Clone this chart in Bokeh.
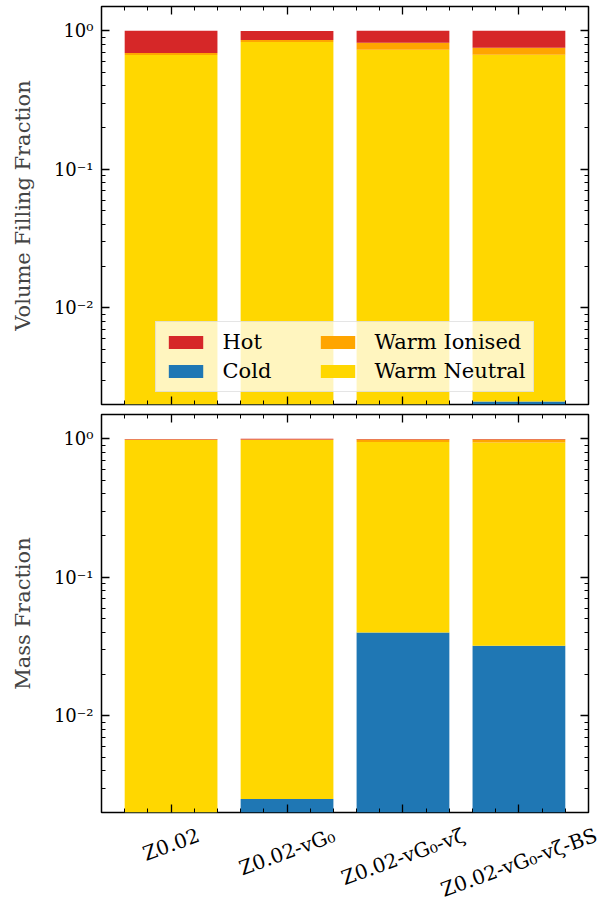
import math
import numpy as np
from bokeh.plotting import figure
from bokeh.models import (Range1d, FixedTicker, LinearAxis, LogAxis, Legend, LegendItem,
                          CustomJSTickFormatter, ColumnDataSource)
from bokeh.core.properties import value
from bokeh.layouts import column
from bokeh.embed import file_html
from bokeh.resources import INLINE

# ---------------- data ----------------
categories = ["Z0.02", "Z0.02-vG\u2080", "Z0.02-vG\u2080-v\u03b6", "Z0.02-vG\u2080-v\u03b6-BS"]

vol_cold = [0.0005, 0.0008, 0.0012, 0.0021]
vol_warm_neutral = [0.670, 0.832, 0.728, 0.669]
vol_warm_ionised = [0.023, 0.028, 0.090, 0.083]
vol_hot = [0.307, 0.139, 0.181, 0.246]

mass_cold = [0.0006, 0.0025, 0.040, 0.032]
mass_warm_neutral = [0.985, 0.981, 0.911, 0.908]
mass_warm_ionised = [0.003, 0.005, 0.037, 0.048]
mass_hot = [0.011, 0.012, 0.012, 0.012]

component_names = ["Cold", "Warm Neutral", "Warm Ionised", "Hot"]
component_colors = ["#1f77b4", "#ffd700", "#ffa500", "#d62728"]

y_major = [0.01, 0.1, 1.0]

# ---------------- style ----------------
FONT = "DejaVu Serif"
FS_TICK = "18px"
FS = "21px"
FS_CAT_PX = 20
FRAME_W, FRAME_H = 487, 398
X0, X1 = -0.6, 3.6
PX_PER_UNIT = FRAME_W / (X1 - X0)
LABEL_H = 99          # height of the strip holding the rotated category names

y_minor = [k * 10.0 ** e for e in (-3, -2, -1) for k in range(2, 10)]
x_minor = [round(v, 2) for v in np.arange(-0.4, 3.41, 0.2) if abs(v - round(v)) > 1e-6]

sup_fmt = CustomJSTickFormatter(code="""
const e = Math.round(Math.log10(tick));
const m = {"0":"\u2070","1":"\u00b9","2":"\u00b2","3":"\u00b3","-":"\u207b"};
return "10" + String(e).split("").map(c => m[c]).join("");
""")


def blank():
    return CustomJSTickFormatter(code="return ''")


def style_axis(ax, ticker, labels=True):
    ax.ticker = ticker
    ax.axis_line_color = None
    ax.major_tick_in = 8
    ax.major_tick_out = 0
    ax.minor_tick_in = 4
    ax.minor_tick_out = 0
    ax.major_tick_line_color = "black"
    ax.minor_tick_line_color = "black"
    ax.major_tick_line_width = 1.3
    ax.minor_tick_line_width = 1.0
    ax.major_label_text_font = FONT
    ax.major_label_text_color = "black"
    if labels:
        ax.major_label_text_font_size = FS_TICK
        ax.major_label_standoff = 8
    else:
        ax.formatter = blank()
        ax.major_label_text_font_size = "0px"
        ax.major_label_standoff = 0


def make_panel(series, ylabel, top_panel):
    p = figure(frame_width=FRAME_W, frame_height=FRAME_H, y_axis_type="log",
               x_range=Range1d(X0, X1), y_range=Range1d(0.002, 1.5),
               output_backend="svg", toolbar_location=None,
               min_border_left=101, min_border_right=13,
               min_border_top=6 if top_panel else 5,
               min_border_bottom=5 if top_panel else 2)
    p.xgrid.visible = False
    p.ygrid.visible = False
    p.outline_line_color = "black"
    p.outline_line_width = 1.5
    p.background_fill_color = "white"
    p.border_fill_color = "white"

    xs = list(range(len(categories)))
    base = np.full(len(categories), 1e-6)
    renderers = {}
    for name, color, vals in zip(component_names, component_colors, series):
        top = base + np.asarray(vals)
        r = p.vbar(x=xs, width=0.8, bottom=base.copy(), top=top,
                   fill_color=color, line_color=None)
        renderers[name] = r
        base = top

    yl = p.yaxis[0]
    style_axis(yl, FixedTicker(ticks=y_major, minor_ticks=y_minor))
    yl.formatter = sup_fmt
    yl.axis_label = ylabel
    yl.axis_label_text_font = FONT
    yl.axis_label_text_font_size = FS
    yl.axis_label_text_font_style = "normal"
    yl.axis_label_standoff = 16

    xb = p.xaxis[0]
    style_axis(xb, FixedTicker(ticks=xs, minor_ticks=x_minor), labels=False)

    yr = LogAxis()
    style_axis(yr, FixedTicker(ticks=y_major, minor_ticks=y_minor), labels=False)
    p.add_layout(yr, "right")
    xt = LinearAxis()
    style_axis(xt, FixedTicker(ticks=xs, minor_ticks=x_minor), labels=False)
    p.add_layout(xt, "above")
    return p, renderers


p1, r1 = make_panel([vol_cold, vol_warm_neutral, vol_warm_ionised, vol_hot],
                    "Volume Filling Fraction", True)
p2, r2 = make_panel([mass_cold, mass_warm_neutral, mass_warm_ionised, mass_hot],
                    "Mass Fraction", False)

legend = Legend(items=[LegendItem(label="Hot", renderers=[r1["Hot"]]),
                       LegendItem(label="Cold", renderers=[r1["Cold"]]),
                       LegendItem(label="Warm Ionised", renderers=[r1["Warm Ionised"]]),
                       LegendItem(label="Warm Neutral", renderers=[r1["Warm Neutral"]])],
                location="bottom_center", orientation="vertical", nrows=2,
                glyph_width=43, glyph_height=16, label_standoff=16, spacing=5,
                padding=8, margin=12, label_width=88,
                background_fill_color="white", background_fill_alpha=0.75,
                border_line_color="#cccccc", border_line_width=1.2,
                label_text_font=FONT, label_text_font_size=FS, label_text_color="black")
p1.add_layout(legend)

# ---- strip below the lower panel with the rotated category names ----
strip_w = 601 - 101
p3 = figure(frame_width=strip_w, frame_height=LABEL_H,
            x_range=Range1d(X0, X0 + strip_w / PX_PER_UNIT), y_range=Range1d(0, LABEL_H),
            output_backend="svg", toolbar_location=None,
            min_border_left=101, min_border_right=0, min_border_top=0, min_border_bottom=0,
            x_axis_location=None, y_axis_location=None)
p3.xgrid.visible = False
p3.ygrid.visible = False
p3.outline_line_color = None
p3.background_fill_color = "white"
p3.border_fill_color = "white"

char_em = {"Z": 0.667, ".": 0.318, "-": 0.338, "v": 0.592, "G": 0.775, "\u2080": 0.42,
           "\u03b6": 0.52, "B": 0.686, "S": 0.645}
ang = math.radians(20)
right_mid_below = 20   # px below the strip top where each name's right end sits
label_y = []
for cat in categories:
    L = sum(char_em.get(c, 0.636) for c in cat) * FS_CAT_PX
    label_y.append(LABEL_H - (right_mid_below + L * math.sin(ang) / 2))

src = ColumnDataSource(dict(x=list(range(len(categories))), y=label_y, text=categories))
p3.text(x="x", y="y", text="text", source=src, angle=20, angle_units="deg",
        text_align="center", text_baseline="middle", text_font=value(FONT),
        text_font_size=f"{FS_CAT_PX}px", text_color="black")

layout = column(p1, p2, p3, spacing=0)
open("out.html", "w").write(file_html(layout, INLINE))
